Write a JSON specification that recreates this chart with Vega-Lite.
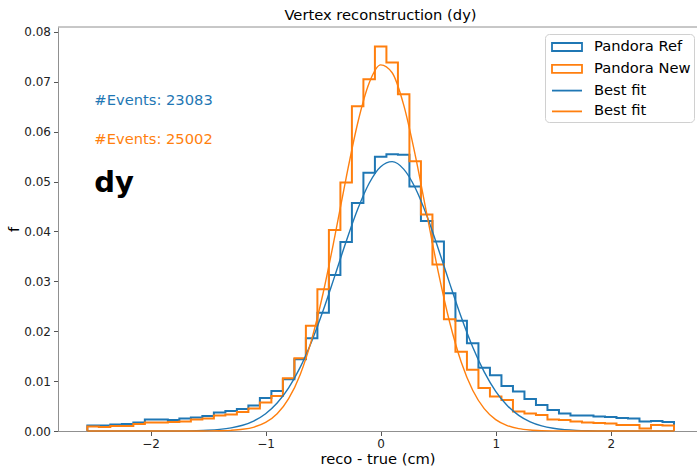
{
  "$schema": "https://vega.github.io/schema/vega-lite/v6.json",
  "width": 639,
  "height": 404,
  "autosize": {"type": "none"},
  "padding": {"left": 58, "top": 27, "right": 0, "bottom": 36},
  "background": "white",
  "title": {"text": "Vertex reconstruction (dy)", "fontSize": 14.7, "fontWeight": "normal", "color": "black", "font": "DejaVu Sans", "offset": 3, "dx": 3, "anchor": "middle", "frame": "group"},
  "config": {
    "font": "DejaVu Sans",
    "view": {"stroke": null},
    "axis": {"grid": false, "domainColor": "#909090", "domainWidth": 1, "tickColor": "#555555", "tickSize": 4.5, "labelFontSize": 12, "labelColor": "#222222", "labelFont": "DejaVu Sans", "titleFont": "DejaVu Sans", "titleFontSize": 14.7, "titleFontWeight": "normal", "titleColor": "black"},
    "legend": {"orient": "none", "legendX": 487, "legendY": 7, "title": null, "symbolSize": 324, "symbolOffset": 9, "symbolStrokeWidth": 1.8, "symbolFillColor": "transparent", "labelFontSize": 14.7, "labelFont": "DejaVu Sans", "labelColor": "black", "labelOffset": 17, "fillColor": "white", "strokeColor": "#d0d0d0", "cornerRadius": 4, "padding": 3, "rowPadding": 3.8}
  },
  "datasets": {
    "hist": [
      {"series": "Pandora Ref", "x": -2.55, "f": 0, "i": 0},
      {"series": "Pandora Ref", "x": -2.55, "f": 0.0011, "i": 1},
      {"series": "Pandora Ref", "x": -2.45, "f": 0.0011, "i": 2},
      {"series": "Pandora Ref", "x": -2.35, "f": 0.0013, "i": 3},
      {"series": "Pandora Ref", "x": -2.25, "f": 0.0014, "i": 4},
      {"series": "Pandora Ref", "x": -2.15, "f": 0.0017, "i": 5},
      {"series": "Pandora Ref", "x": -2.05, "f": 0.0023, "i": 6},
      {"series": "Pandora Ref", "x": -1.95, "f": 0.0023, "i": 7},
      {"series": "Pandora Ref", "x": -1.85, "f": 0.0022, "i": 8},
      {"series": "Pandora Ref", "x": -1.75, "f": 0.0025, "i": 9},
      {"series": "Pandora Ref", "x": -1.65, "f": 0.0027, "i": 10},
      {"series": "Pandora Ref", "x": -1.55, "f": 0.0030, "i": 11},
      {"series": "Pandora Ref", "x": -1.45, "f": 0.0037, "i": 12},
      {"series": "Pandora Ref", "x": -1.35, "f": 0.0040, "i": 13},
      {"series": "Pandora Ref", "x": -1.25, "f": 0.0044, "i": 14},
      {"series": "Pandora Ref", "x": -1.15, "f": 0.0051, "i": 15},
      {"series": "Pandora Ref", "x": -1.05, "f": 0.0066, "i": 16},
      {"series": "Pandora Ref", "x": -0.95, "f": 0.0080, "i": 17},
      {"series": "Pandora Ref", "x": -0.85, "f": 0.0104, "i": 18},
      {"series": "Pandora Ref", "x": -0.75, "f": 0.0144, "i": 19},
      {"series": "Pandora Ref", "x": -0.65, "f": 0.0186, "i": 20},
      {"series": "Pandora Ref", "x": -0.55, "f": 0.0237, "i": 21},
      {"series": "Pandora Ref", "x": -0.45, "f": 0.0313, "i": 22},
      {"series": "Pandora Ref", "x": -0.35, "f": 0.0379, "i": 23},
      {"series": "Pandora Ref", "x": -0.25, "f": 0.0457, "i": 24},
      {"series": "Pandora Ref", "x": -0.15, "f": 0.0518, "i": 25},
      {"series": "Pandora Ref", "x": -0.05, "f": 0.0550, "i": 26},
      {"series": "Pandora Ref", "x": 0.05, "f": 0.0555, "i": 27},
      {"series": "Pandora Ref", "x": 0.15, "f": 0.0554, "i": 28},
      {"series": "Pandora Ref", "x": 0.25, "f": 0.0490, "i": 29},
      {"series": "Pandora Ref", "x": 0.35, "f": 0.0421, "i": 30},
      {"series": "Pandora Ref", "x": 0.45, "f": 0.0380, "i": 31},
      {"series": "Pandora Ref", "x": 0.55, "f": 0.0276, "i": 32},
      {"series": "Pandora Ref", "x": 0.65, "f": 0.0221, "i": 33},
      {"series": "Pandora Ref", "x": 0.75, "f": 0.0176, "i": 34},
      {"series": "Pandora Ref", "x": 0.85, "f": 0.0127, "i": 35},
      {"series": "Pandora Ref", "x": 0.95, "f": 0.0112, "i": 36},
      {"series": "Pandora Ref", "x": 1.05, "f": 0.0090, "i": 37},
      {"series": "Pandora Ref", "x": 1.15, "f": 0.0079, "i": 38},
      {"series": "Pandora Ref", "x": 1.25, "f": 0.0064, "i": 39},
      {"series": "Pandora Ref", "x": 1.35, "f": 0.0052, "i": 40},
      {"series": "Pandora Ref", "x": 1.45, "f": 0.0042, "i": 41},
      {"series": "Pandora Ref", "x": 1.55, "f": 0.0035, "i": 42},
      {"series": "Pandora Ref", "x": 1.65, "f": 0.0031, "i": 43},
      {"series": "Pandora Ref", "x": 1.75, "f": 0.0031, "i": 44},
      {"series": "Pandora Ref", "x": 1.85, "f": 0.0029, "i": 45},
      {"series": "Pandora Ref", "x": 1.95, "f": 0.0028, "i": 46},
      {"series": "Pandora Ref", "x": 2.05, "f": 0.0026, "i": 47},
      {"series": "Pandora Ref", "x": 2.15, "f": 0.0025, "i": 48},
      {"series": "Pandora Ref", "x": 2.25, "f": 0.0019, "i": 49},
      {"series": "Pandora Ref", "x": 2.35, "f": 0.0020, "i": 50},
      {"series": "Pandora Ref", "x": 2.45, "f": 0.0018, "i": 51},
      {"series": "Pandora Ref", "x": 2.55, "f": 0.0018, "i": 52},
      {"series": "Pandora Ref", "x": 2.55, "f": 0, "i": 53},
      {"series": "Pandora New", "x": -2.55, "f": 0, "i": 0},
      {"series": "Pandora New", "x": -2.55, "f": 0.0009, "i": 1},
      {"series": "Pandora New", "x": -2.45, "f": 0.0008, "i": 2},
      {"series": "Pandora New", "x": -2.35, "f": 0.0010, "i": 3},
      {"series": "Pandora New", "x": -2.25, "f": 0.0010, "i": 4},
      {"series": "Pandora New", "x": -2.15, "f": 0.0014, "i": 5},
      {"series": "Pandora New", "x": -2.05, "f": 0.0017, "i": 6},
      {"series": "Pandora New", "x": -1.95, "f": 0.0017, "i": 7},
      {"series": "Pandora New", "x": -1.85, "f": 0.0018, "i": 8},
      {"series": "Pandora New", "x": -1.75, "f": 0.0019, "i": 9},
      {"series": "Pandora New", "x": -1.65, "f": 0.0023, "i": 10},
      {"series": "Pandora New", "x": -1.55, "f": 0.0025, "i": 11},
      {"series": "Pandora New", "x": -1.45, "f": 0.0031, "i": 12},
      {"series": "Pandora New", "x": -1.35, "f": 0.0033, "i": 13},
      {"series": "Pandora New", "x": -1.25, "f": 0.0038, "i": 14},
      {"series": "Pandora New", "x": -1.15, "f": 0.0045, "i": 15},
      {"series": "Pandora New", "x": -1.05, "f": 0.0057, "i": 16},
      {"series": "Pandora New", "x": -0.95, "f": 0.0070, "i": 17},
      {"series": "Pandora New", "x": -0.85, "f": 0.0106, "i": 18},
      {"series": "Pandora New", "x": -0.75, "f": 0.0146, "i": 19},
      {"series": "Pandora New", "x": -0.65, "f": 0.0211, "i": 20},
      {"series": "Pandora New", "x": -0.55, "f": 0.0284, "i": 21},
      {"series": "Pandora New", "x": -0.45, "f": 0.0403, "i": 22},
      {"series": "Pandora New", "x": -0.35, "f": 0.0498, "i": 23},
      {"series": "Pandora New", "x": -0.25, "f": 0.0651, "i": 24},
      {"series": "Pandora New", "x": -0.15, "f": 0.0705, "i": 25},
      {"series": "Pandora New", "x": -0.05, "f": 0.0771, "i": 26},
      {"series": "Pandora New", "x": 0.05, "f": 0.0739, "i": 27},
      {"series": "Pandora New", "x": 0.15, "f": 0.0675, "i": 28},
      {"series": "Pandora New", "x": 0.25, "f": 0.0541, "i": 29},
      {"series": "Pandora New", "x": 0.35, "f": 0.0434, "i": 30},
      {"series": "Pandora New", "x": 0.45, "f": 0.0334, "i": 31},
      {"series": "Pandora New", "x": 0.55, "f": 0.0224, "i": 32},
      {"series": "Pandora New", "x": 0.65, "f": 0.0159, "i": 33},
      {"series": "Pandora New", "x": 0.75, "f": 0.0123, "i": 34},
      {"series": "Pandora New", "x": 0.85, "f": 0.0086, "i": 35},
      {"series": "Pandora New", "x": 0.95, "f": 0.0069, "i": 36},
      {"series": "Pandora New", "x": 1.05, "f": 0.0062, "i": 37},
      {"series": "Pandora New", "x": 1.15, "f": 0.0039, "i": 38},
      {"series": "Pandora New", "x": 1.25, "f": 0.0035, "i": 39},
      {"series": "Pandora New", "x": 1.35, "f": 0.0032, "i": 40},
      {"series": "Pandora New", "x": 1.45, "f": 0.0023, "i": 41},
      {"series": "Pandora New", "x": 1.55, "f": 0.0022, "i": 42},
      {"series": "Pandora New", "x": 1.65, "f": 0.0019, "i": 43},
      {"series": "Pandora New", "x": 1.75, "f": 0.0017, "i": 44},
      {"series": "Pandora New", "x": 1.85, "f": 0.0016, "i": 45},
      {"series": "Pandora New", "x": 1.95, "f": 0.0015, "i": 46},
      {"series": "Pandora New", "x": 2.05, "f": 0.0012, "i": 47},
      {"series": "Pandora New", "x": 2.15, "f": 0.0012, "i": 48},
      {"series": "Pandora New", "x": 2.25, "f": 0.0005, "i": 49},
      {"series": "Pandora New", "x": 2.35, "f": 0.0012, "i": 50},
      {"series": "Pandora New", "x": 2.45, "f": 0.0011, "i": 51},
      {"series": "Pandora New", "x": 2.55, "f": 0.0011, "i": 52},
      {"series": "Pandora New", "x": 2.55, "f": 0, "i": 53}
    ],
    "fit": [
      {"series": "Best fit ", "x": -2.55, "f": 0},
      {"series": "Best fit ", "x": -2.2, "f": 0.000001},
      {"series": "Best fit ", "x": -2.0, "f": 0.000002},
      {"series": "Best fit ", "x": -1.8, "f": 0.000014},
      {"series": "Best fit ", "x": -1.6, "f": 0.000073},
      {"series": "Best fit ", "x": -1.5, "f": 0.000156},
      {"series": "Best fit ", "x": -1.4, "f": 0.00032},
      {"series": "Best fit ", "x": -1.3, "f": 0.00062},
      {"series": "Best fit ", "x": -1.2, "f": 0.00115},
      {"series": "Best fit ", "x": -1.1, "f": 0.00205},
      {"series": "Best fit ", "x": -1.0, "f": 0.00346},
      {"series": "Best fit ", "x": -0.9, "f": 0.0056},
      {"series": "Best fit ", "x": -0.8, "f": 0.00865},
      {"series": "Best fit ", "x": -0.7, "f": 0.01275},
      {"series": "Best fit ", "x": -0.6, "f": 0.01796},
      {"series": "Best fit ", "x": -0.5, "f": 0.02414},
      {"series": "Best fit ", "x": -0.4, "f": 0.0310},
      {"series": "Best fit ", "x": -0.3, "f": 0.0380},
      {"series": "Best fit ", "x": -0.2, "f": 0.04446},
      {"series": "Best fit ", "x": -0.1, "f": 0.04968},
      {"series": "Best fit ", "x": 0.0, "f": 0.0530},
      {"series": "Best fit ", "x": 0.1, "f": 0.0540},
      {"series": "Best fit ", "x": 0.2, "f": 0.0525},
      {"series": "Best fit ", "x": 0.3, "f": 0.04877},
      {"series": "Best fit ", "x": 0.4, "f": 0.04324},
      {"series": "Best fit ", "x": 0.5, "f": 0.0366},
      {"series": "Best fit ", "x": 0.6, "f": 0.0296},
      {"series": "Best fit ", "x": 0.7, "f": 0.02284},
      {"series": "Best fit ", "x": 0.8, "f": 0.01683},
      {"series": "Best fit ", "x": 0.9, "f": 0.01185},
      {"series": "Best fit ", "x": 1.0, "f": 0.00796},
      {"series": "Best fit ", "x": 1.1, "f": 0.00511},
      {"series": "Best fit ", "x": 1.2, "f": 0.00313},
      {"series": "Best fit ", "x": 1.3, "f": 0.00183},
      {"series": "Best fit ", "x": 1.4, "f": 0.00102},
      {"series": "Best fit ", "x": 1.5, "f": 0.000545},
      {"series": "Best fit ", "x": 1.6, "f": 0.000278},
      {"series": "Best fit ", "x": 1.7, "f": 0.000135},
      {"series": "Best fit ", "x": 1.8, "f": 0.000063},
      {"series": "Best fit ", "x": 2.0, "f": 0.000012},
      {"series": "Best fit ", "x": 2.2, "f": 0.000001},
      {"series": "Best fit ", "x": 2.55, "f": 0},
      {"series": "Best fit", "x": -2.55, "f": 0},
      {"series": "Best fit", "x": -2.0, "f": 0},
      {"series": "Best fit", "x": -1.6, "f": 0.0000056},
      {"series": "Best fit", "x": -1.5, "f": 0.000017},
      {"series": "Best fit", "x": -1.4, "f": 0.00005},
      {"series": "Best fit", "x": -1.3, "f": 0.000135},
      {"series": "Best fit", "x": -1.2, "f": 0.00034},
      {"series": "Best fit", "x": -1.1, "f": 0.00079},
      {"series": "Best fit", "x": -1.0, "f": 0.00171},
      {"series": "Best fit", "x": -0.9, "f": 0.00345},
      {"series": "Best fit", "x": -0.8, "f": 0.00648},
      {"series": "Best fit", "x": -0.7, "f": 0.0113},
      {"series": "Best fit", "x": -0.6, "f": 0.01833},
      {"series": "Best fit", "x": -0.5, "f": 0.02767},
      {"series": "Best fit", "x": -0.4, "f": 0.03886},
      {"series": "Best fit", "x": -0.3, "f": 0.05077},
      {"series": "Best fit", "x": -0.2, "f": 0.06171},
      {"series": "Best fit", "x": -0.1, "f": 0.06977},
      {"series": "Best fit", "x": 0.0, "f": 0.0734},
      {"series": "Best fit", "x": 0.1, "f": 0.07182},
      {"series": "Best fit", "x": 0.2, "f": 0.06538},
      {"series": "Best fit", "x": 0.3, "f": 0.05537},
      {"series": "Best fit", "x": 0.4, "f": 0.04362},
      {"series": "Best fit", "x": 0.5, "f": 0.03197},
      {"series": "Best fit", "x": 0.6, "f": 0.0218},
      {"series": "Best fit", "x": 0.7, "f": 0.01383},
      {"series": "Best fit", "x": 0.8, "f": 0.00816},
      {"series": "Best fit", "x": 0.9, "f": 0.00448},
      {"series": "Best fit", "x": 1.0, "f": 0.00229},
      {"series": "Best fit", "x": 1.1, "f": 0.00109},
      {"series": "Best fit", "x": 1.2, "f": 0.00048},
      {"series": "Best fit", "x": 1.3, "f": 0.0002},
      {"series": "Best fit", "x": 1.4, "f": 0.000076},
      {"series": "Best fit", "x": 1.5, "f": 0.000027},
      {"series": "Best fit", "x": 1.6, "f": 0.000009},
      {"series": "Best fit", "x": 2.0, "f": 0},
      {"series": "Best fit", "x": 2.55, "f": 0}
    ]
  },
  "layer": [
    {
      "data": {"name": "hist"},
      "mark": {"type": "line", "interpolate": "step-after", "strokeWidth": 2},
      "encoding": {
        "x": {"field": "x", "type": "quantitative", "scale": {"domain": [-2.805, 2.75], "nice": false, "zero": false},
              "axis": {"values": [-2, -1, 0, 1, 2], "format": "d", "title": "reco - true (cm)", "labelPadding": 3, "titleY": 28, "titleBaseline": "middle"}},
        "y": {"field": "f", "type": "quantitative", "scale": {"domain": [0, 0.081], "nice": false, "zero": false},
              "axis": {"values": [0, 0.01, 0.02, 0.03, 0.04, 0.05, 0.06, 0.07, 0.08], "format": ".2f", "title": "f", "labelPadding": 3, "titleX": -44, "titleY": 202, "titleBaseline": "middle", "titleAlign": "center", "titleAngle": -90}},
        "order": {"field": "i", "type": "quantitative"},
        "stroke": {"field": "series", "type": "nominal", "scale": {"domain": ["Pandora Ref", "Pandora New", "Best fit ", "Best fit"], "range": ["#1f77b4", "#ff7f0e", "#1f77b4", "#ff7f0e"]}}
      }
    },
    {
      "data": {"name": "fit"},
      "mark": {"type": "line", "interpolate": "monotone", "strokeWidth": 1.4},
      "encoding": {
        "x": {"field": "x", "type": "quantitative"},
        "y": {"field": "f", "type": "quantitative"},
        "stroke": {"field": "series", "type": "nominal"}
      }
    },
    {
      "data": {"values": [{}]},
      "mark": {"type": "rule", "color": "#909090", "strokeWidth": 1},
      "encoding": {"y": {"datum": 0.081}}
    },
    {
      "data": {"values": [{}]},
      "mark": {"type": "text", "align": "left", "baseline": "alphabetic", "fontSize": 14.7, "color": "#1f77b4"},
      "encoding": {"x": {"datum": -2.489}, "y": {"datum": 0.0653}, "text": {"value": "#Events: 23083"}}
    },
    {
      "data": {"values": [{}]},
      "mark": {"type": "text", "align": "left", "baseline": "alphabetic", "fontSize": 14.7, "color": "#ff7f0e"},
      "encoding": {"x": {"datum": -2.489}, "y": {"datum": 0.0576}, "text": {"value": "#Events: 25002"}}
    },
    {
      "data": {"values": [{}]},
      "mark": {"type": "text", "align": "left", "baseline": "alphabetic", "fontSize": 29, "fontWeight": "bold", "color": "black"},
      "encoding": {"x": {"datum": -2.489}, "y": {"datum": 0.0479}, "text": {"value": "dy"}}
    },
    {
      "data": {"name": "hist"},
      "transform": [{"filter": "false"}],
      "mark": {"type": "point", "filled": false, "opacity": 1, "strokeWidth": 1.8},
      "encoding": {
        "stroke": {"field": "series", "type": "nominal"},
        "shape": {"field": "series", "type": "nominal", "scale": {"domain": ["Pandora Ref", "Pandora New", "Best fit ", "Best fit"], "range": ["M-1.667,-0.444H1.667V0.444H-1.667Z", "M-1.667,-0.444H1.667V0.444H-1.667Z", "M-1.667,0H1.667", "M-1.667,0H1.667"]}}
      }
    }
  ]
}
